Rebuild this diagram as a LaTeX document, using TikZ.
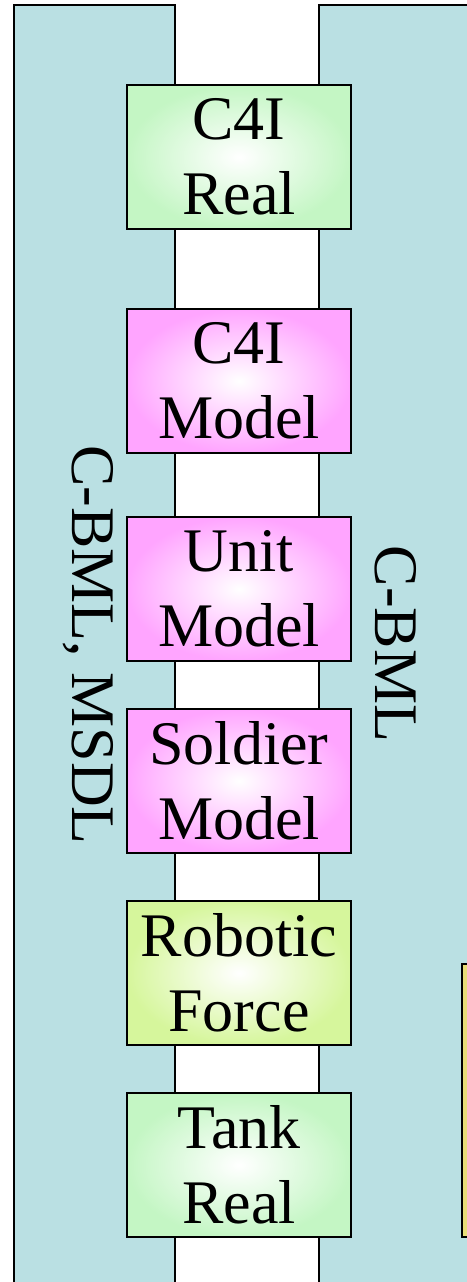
\documentclass[tikz,border=0pt]{standalone}
\usepackage{fontspec}
\setmainfont{Liberation Serif}
\newfontfamily\boxfont{Liberation Serif}
\definecolor{panelteal}{RGB}{186,224,227}
\definecolor{boxgreen}{RGB}{196,246,196}
\definecolor{boxpink}{RGB}{255,165,255}
\definecolor{boxlime}{RGB}{214,246,156}
\definecolor{boxyellow}{RGB}{232,222,120}
\begin{document}
\begin{tikzpicture}[x=1pt,y=-1pt,
  panel/.style={draw=black,line width=1.5pt,fill=panelteal},
  unitbox/.style={draw=black,line width=1.5pt,minimum width=224pt,minimum height=144pt,
    inner sep=0pt,align=center,font=\boxfont\fontsize{62}{75}\selectfont,shading=radial,inner color=white},
  greenbox/.style={unitbox,outer color=boxgreen},
  pinkbox/.style={unitbox,outer color=boxpink},
  limebox/.style={unitbox,outer color=boxlime},
  sidelabel/.style={rotate=-90,anchor=base,font=\boxfont\fontsize{62}{75}\selectfont,inner sep=0pt}]
\useasboundingbox (0,0) rectangle (466,1282);
\fill[white] (0,0) rectangle (466,1282);
\draw[panel] (14,1290) -- (14,5) -- (175,5) -- (175,1290);
\draw[panel] (319,1290) -- (319,5) -- (480,5) -- (480,1290);
\draw[draw=black,line width=2pt,fill=boxyellow] (462,964) rectangle (480,1237);
\node[greenbox] (c4ireal) at (239,157) {C4I\\Real};
\node[pinkbox] (c4imodel) at (239,381) {C4I\\Model};
\node[pinkbox] (unitmodel) at (239,589) {Unit\\Model};
\node[pinkbox] (soldiermodel) at (239,781) {Soldier\\Model};
\node[limebox] (robotic) at (239,973) {Robotic\\Force};
\node[greenbox] (tankreal) at (239,1165) {Tank\\Real};
\node[sidelabel] (leftlabel) at (72,645) {C-BML, MSDL};
\node[sidelabel] (rightlabel) at (375,644) {C-BML};
\end{tikzpicture}
\end{document}
